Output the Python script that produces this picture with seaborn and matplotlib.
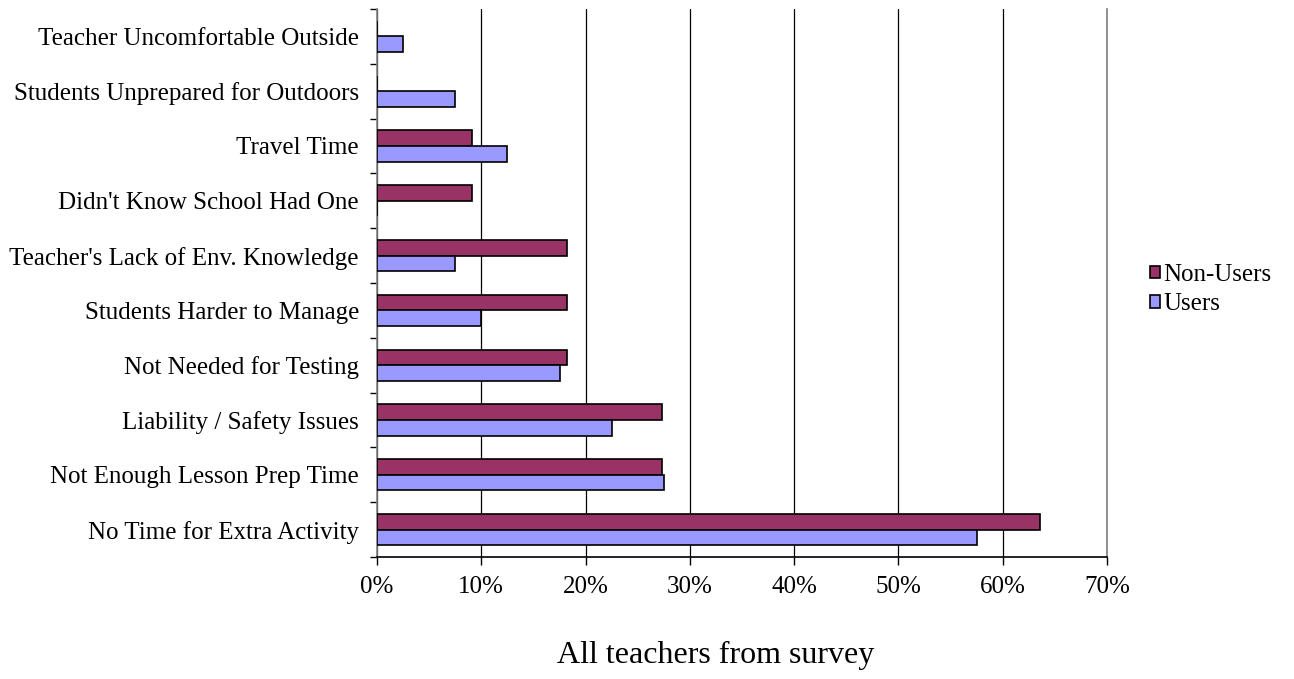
import numpy as np
import pandas as pd
import seaborn as sns
import matplotlib
matplotlib.use("Agg")
import matplotlib.pyplot as plt
from matplotlib.ticker import FixedLocator, PercentFormatter

# reasons, top to bottom as in the chart
reasons = ["Teacher Uncomfortable Outside",
           "Students Unprepared for Outdoors",
           "Travel Time",
           "Didn't Know School Had One",
           "Teacher's Lack of Env. Knowledge",
           "Students Harder to Manage",
           "Not Needed for Testing",
           "Liability / Safety Issues",
           "Not Enough Lesson Prep Time",
           "No Time for Extra Activity"]

# percent of teachers
non_users = [0, 0, 9.1, 9.1, 18.2, 18.2, 18.2, 27.3, 27.3, 63.6]
users = [2.5, 7.5, 12.5, 0, 7.5, 10.0, 17.5, 22.5, 27.5, 57.5]

groups = ["Non-Users", "Users"]
colors = {"Non-Users": "#993366", "Users": "#9999FF"}

df = pd.DataFrame({
    "reason": reasons * 2,
    "group": ["Non-Users"] * len(reasons) + ["Users"] * len(reasons),
    "pct": non_users + users,
})

sns.set_style("white")
plt.rcParams['font.family'] = ['Liberation Serif', 'DejaVu Serif']
plt.rcParams['text.color'] = 'black'
plt.rcParams['xtick.labelcolor'] = 'black'
plt.rcParams['ytick.labelcolor'] = 'black'

fig = plt.figure(figsize=(12.94, 6.79), dpi=100)
ax = fig.add_axes([377 / 1294, 1 - 557 / 679, 730 / 1294, 548 / 679])

sns.barplot(data=df, x="pct", y="reason", hue="group", order=reasons,
            hue_order=groups, palette=colors, width=0.57, saturation=1,
            edgecolor="black", linewidth=1.2, errorbar=None, ax=ax, zorder=3)

ax.set_xlim(0, 70)
ax.set_xticks(np.arange(0, 71, 10))
ax.xaxis.set_major_formatter(PercentFormatter(decimals=0))
ax.grid(axis="x", color="black", linewidth=0.9, zorder=0)
ax.grid(axis="y", visible=False)

# ticks between the categories, like the original
ax.set_ylim(len(reasons) - 0.5, -0.5)
ax.yaxis.set_minor_locator(FixedLocator(np.arange(-0.5, len(reasons), 1)))
ax.tick_params(axis="y", which="major", length=0, pad=13, labelsize=18)
ax.tick_params(axis="y", which="minor", length=5, width=1, color="black", left=True)
ax.tick_params(axis="x", length=6, width=1, color="black", bottom=True,
               labelsize=18, pad=8)

ax.spines["top"].set_visible(False)
ax.spines["left"].set_color("#808080")
ax.spines["right"].set_color("#808080")
ax.spines["bottom"].set_color("black")
for side in ["left", "right", "bottom"]:
    ax.spines[side].set_linewidth(1.2)

ax.set_xlabel("")
ax.set_ylabel("")

fig.text(716 / 1294, 1 - 655 / 679, "All teachers from survey",
         ha="center", va="center", fontsize=23)

leg = ax.legend(loc="center left", bbox_to_anchor=(1.028, 0.488), frameon=False,
                fontsize=18, handlelength=0.4, handleheight=0.4,
                handletextpad=0.15, labelspacing=0.3)

fig.savefig("out.png", dpi=100)
